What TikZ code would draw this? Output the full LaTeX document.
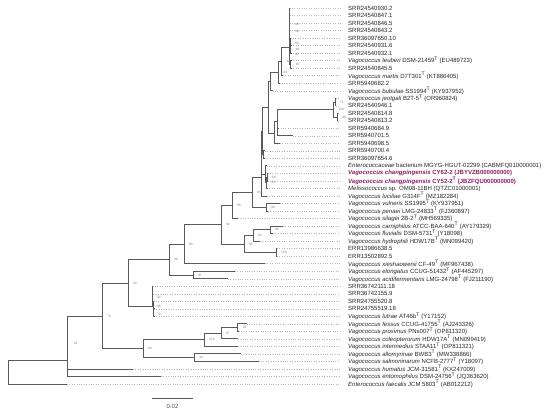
\documentclass[tikz,border=0pt]{standalone}
\usepackage{fontspec}
\setmainfont{Liberation Sans}
\definecolor{brc}{HTML}{5A5A5A}
\definecolor{purp}{HTML}{8B1C62}
\tikzset{
  br/.style={draw=brc, line width=0.9pt},
  leader/.style={draw=gray!55, dotted, line width=0.4pt},
  lbl/.style={anchor=west, inner sep=0pt, font=\fontsize{6}{6.5}\selectfont, text=black!85},
  bs/.style={anchor=west, inner sep=0pt, xshift=5pt, font=\fontsize{3.2}{3.5}\selectfont, text=gray},
}
\newcommand\leafrow[4]{%
  \coordinate (t#1) at (#2,#3);
  \node[lbl] (l#1) at (348,#3) {#4};
  \draw[leader] (t#1) -- (t#1 -| xe);
}
\newcommand\Vt[1]{\textit{Vagococcus #1}}
\newcommand\Ts{\textsuperscript{T}}
\begin{document}
\begin{tikzpicture}[x=1pt,y=-1pt]
\useasboundingbox (0,0) rectangle (550,414);
\coordinate (xe) at (340,0);
% leaves
\leafrow{1}{289.5}{8}{SRR24540930.2}
\leafrow{2}{289.5}{15.52}{SRR24540847.1}
\leafrow{3}{289.5}{23.04}{SRR24540846.5}
\leafrow{4}{289.5}{30.56}{SRR24540843.2}
\leafrow{5}{290.5}{38.08}{SRR36097650.10}
\leafrow{6}{291}{45.6}{SRR24540931.6}
\leafrow{7}{291}{53.12}{SRR24540932.1}
\leafrow{8}{291}{60.64}{\Vt{teuberi} DSM-21459\Ts{} (EU489723)}
\leafrow{9}{291}{68.16}{SRR24540845.5}
\leafrow{10}{283}{75.68}{\Vt{martis} D7T301\Ts{} (KT886405)}
\leafrow{11}{279.5}{83.2}{SRR5940682.2}
\leafrow{12}{272.5}{90.72}{\Vt{bubulae} SS1994\Ts{} (KY937952)}
\leafrow{13}{336}{98.24}{\Vt{jeotgali} B2T-5\Ts{} (OR960824)}
\leafrow{14}{336}{105.76}{SRR24540946.1}
\leafrow{15}{338}{113.28}{SRR24540814.8}
\leafrow{16}{338}{120.8}{SRR24540813.2}
\leafrow{17}{278.2}{128.32}{SRR5940684.9}
\leafrow{18}{292.7}{135.84}{SRR5940701.5}
\leafrow{19}{280}{143.36}{SRR5940698.5}
\leafrow{20}{265}{150.88}{SRR5940700.4}
\leafrow{21}{265}{158.4}{SRR36097654.6}
\leafrow{22}{266.5}{165.92}{\textit{Enterococcaceae} bacterium MGYG-HGUT-02299 (CABMFQ010000001)}
\leafrow{23}{267.5}{173.44}{\textcolor{purp}{\textbf{\textit{Vagococcus changpingensis} CY62-2 (JBYVZB000000000)}}}
\leafrow{24}{267.5}{180.96}{\textcolor{purp}{\textbf{\textit{Vagococcus changpingensis} CY52-2\Ts{} (JBZFQU000000000)}}}
\leafrow{25}{267}{188.48}{\textit{Melissococcus} sp. OM08-11BH (QTZC01000001)}
\leafrow{26}{267}{196}{\Vt{luciliae} G314F\Ts{} (MZ182284)}
\leafrow{27}{280}{203.52}{\Vt{vulneris} SS1995\Ts{} (KY937951)}
\leafrow{28}{268}{211.04}{\Vt{penaei} LMG-24833\Ts{} (FJ360897)}
\leafrow{29}{238}{218.56}{\Vt{silagei} 2B-2\Ts{} (MH569335)}
\leafrow{30}{283}{226.08}{\Vt{carniphilus} ATCC-BAA-640\Ts{} (AY179329)}
\leafrow{31}{273}{233.6}{\Vt{fluvialis} DSM-5731\Ts{} (Y18098)}
\leafrow{32}{260}{241.12}{\Vt{hydrophili} HDW17B\Ts{} (MN099420)}
\leafrow{33}{277}{248.64}{ERR13986638.5}
\leafrow{34}{277}{256.16}{ERR13502892.5}
\leafrow{35}{265}{263.68}{\Vt{xieshaowenii} CF-49\Ts{} (MF967438)}
\leafrow{36}{235}{271.2}{\Vt{elongatus} CCUG-51432\Ts{} (AF445297)}
\leafrow{37}{228}{278.72}{\Vt{acidifermentans} LMG-24798\Ts{} (FJ211190)}
\leafrow{38}{152.5}{286.24}{SRR36742111.18}
\leafrow{39}{153}{293.76}{SRR36742155.9}
\leafrow{40}{153.5}{301.28}{SRR24755520.8}
\leafrow{41}{154}{308.8}{SRR24755519.18}
\leafrow{42}{154}{316.32}{\Vt{lutrae} AT46b\Ts{} (Y17152)}
\leafrow{43}{246.7}{323.84}{\Vt{fessus} CCUG-41755\Ts{} (AJ243326)}
\leafrow{44}{239}{331.36}{\Vt{proximus} PNs007\Ts{} (OP811320)}
\leafrow{45}{237.7}{338.88}{\Vt{coleopterorum} HDW17A\Ts{} (MN099419)}
\leafrow{46}{237.7}{346.4}{\Vt{intermedius} STAA11\Ts{} (OP811321)}
\leafrow{47}{241}{353.92}{\Vt{allomyrinae} BWB3\Ts{} (MW338866)}
\leafrow{48}{258.5}{361.44}{\Vt{salmoninarum} NCFB-2777\Ts{} (Y18097)}
\leafrow{49}{133}{368.96}{\Vt{humatus} JCM-31581\Ts{} (KX247009)}
\leafrow{50}{161}{376.48}{\Vt{entomophilus} DSM-24756\Ts{} (JQ363620)}
\leafrow{51}{67}{384}{\textit{Enterococcus faecalis} JCM 5803\Ts{} (AB012212)}
% internal nodes
\coordinate (T66) at (290.6,49.36);
\coordinate (T64) at (290.2,43.72);
\coordinate (T60) at (290.6,64.4);
\coordinate (T90) at (289.8,54.06);
\coordinate (T0) at (289.3,47);
\coordinate (Nc) at (281.7,61.3);
\coordinate (Nd) at (278.3,72.3);
\coordinate (Ne) at (270,81.5);
\coordinate (Ja) at (335,102);
\coordinate (Jb) at (337,117.04);
\coordinate (Jc) at (333.3,109.5);
\coordinate (K) at (277.7,121);
\coordinate (L) at (274,133);
\coordinate (M) at (268.3,107.3);
\coordinate (R) at (263.5,154.64);
\coordinate (P) at (262.3,131);
\coordinate (D3) at (267,177.2);
\coordinate (D2) at (266.5,182.8);
\coordinate (D) at (265.7,174.4);
\coordinate (U1) at (261.5,177);
\coordinate (Na) at (266,207.28);
\coordinate (Nb) at (252,192);
\coordinate (Nf) at (232,205.3);
\coordinate (Ng) at (270,229.84);
\coordinate (Nh) at (253,235.5);
\coordinate (Ni) at (276,252.4);
\coordinate (Nj) at (244,244);
\coordinate (Nk) at (221,224.6);
\coordinate (Nl) at (184,244.1);
\coordinate (Nm) at (193,274.96);
\coordinate (Nn) at (169,259.5);
\coordinate (S4) at (153.5,312.56);
\coordinate (S3) at (153,306.9);
\coordinate (S) at (152,306);
\coordinate (No) at (128,283.6);
\coordinate (Np) at (237.7,327.6);
\coordinate (Nq) at (221,333.24);
\coordinate (Nr) at (204,339.8);
\coordinate (Ns) at (194.5,357.68);
\coordinate (Nt) at (143,348.7);
\coordinate (Nu) at (102,316);
\coordinate (Nv) at (67,360);
\coordinate (root) at (8,372);
% branches
\draw[br] (T66) |- (t6);  \draw[br] (T66) |- (t7);
\draw[br] (T64) |- (t5);  \draw[br] (T64) |- (T66);
\draw[br] (T60) |- (t8);  \draw[br] (T60) |- (t9);
\draw[br] (T90) |- (T64); \draw[br] (T90) |- (T60);
\draw[br] (T0) |- (t1); \draw[br] (T0) |- (t2); \draw[br] (T0) |- (t3); \draw[br] (T0) |- (t4); \draw[br] (T0) |- (T90);
\draw[br] (Nc) |- (T0);  \draw[br] (Nc) |- (t10);
\draw[br] (Nd) |- (Nc);  \draw[br] (Nd) |- (t11);
\draw[br] (Ne) |- (Nd);  \draw[br] (Ne) |- (t12);
\draw[br] (Ja) |- (t13); \draw[br] (Ja) |- (t14);
\draw[br] (Jb) |- (t15); \draw[br] (Jb) |- (t16);
\draw[br] (Jc) |- (Ja);  \draw[br] (Jc) |- (Jb);
\draw[br] (K) |- (Jc); \draw[br] (K) |- (t17); \draw[br] (K) |- (t18);
\draw[br] (L) |- (K); \draw[br] (L) |- (t19);
\draw[br] (M) |- (Ne); \draw[br] (M) |- (L);
\draw[br] (R) |- (t20); \draw[br] (R) |- (t21);
\draw[br] (P) |- (M); \draw[br] (P) |- (R);
\draw[br] (D3) |- (t23); \draw[br] (D3) |- (t24);
\draw[br] (D2) |- (D3); \draw[br] (D2) |- (t25);
\draw[br] (D) |- (t22); \draw[br] (D) |- (D2);
\draw[br] (U1) |- (P); \draw[br] (U1) |- (D); \draw[br] (U1) |- (t26);
\draw[br] (Na) |- (t27); \draw[br] (Na) |- (t28);
\draw[br] (Nb) |- (U1); \draw[br] (Nb) |- (Na);
\draw[br] (Nf) |- (Nb); \draw[br] (Nf) |- (t29);
\draw[br] (Ng) |- (t30); \draw[br] (Ng) |- (t31);
\draw[br] (Nh) |- (Ng); \draw[br] (Nh) |- (t32);
\draw[br] (Ni) |- (t33); \draw[br] (Ni) |- (t34);
\draw[br] (Nj) |- (Nh); \draw[br] (Nj) |- (Ni);
\draw[br] (Nk) |- (Nf); \draw[br] (Nk) |- (Nj);
\draw[br] (Nl) |- (Nk); \draw[br] (Nl) |- (t35);
\draw[br] (Nm) |- (t36); \draw[br] (Nm) |- (t37);
\draw[br] (Nn) |- (Nl); \draw[br] (Nn) |- (Nm);
\draw[br] (S4) |- (t41); \draw[br] (S4) |- (t42);
\draw[br] (S3) |- (t40); \draw[br] (S3) |- (S4);
\draw[br] (S) |- (t38); \draw[br] (S) |- (t39); \draw[br] (S) |- (S3);
\draw[br] (No) |- (Nn); \draw[br] (No) |- (S);
\draw[br] (Np) |- (t43); \draw[br] (Np) |- (t44);
\draw[br] (Nq) |- (Np); \draw[br] (Nq) |- (t45);
\draw[br] (Nr) |- (Nq); \draw[br] (Nr) |- (t46);
\draw[br] (Ns) |- (t47); \draw[br] (Ns) |- (t48);
\draw[br] (Nt) |- (Nr); \draw[br] (Nt) |- (Ns);
\draw[br] (Nu) |- (No); \draw[br] (Nu) |- (Nt);
\draw[br] (Nv) |- (Nu); \draw[br] (Nv) |- (t49); \draw[br] (Nv) |- (t50);
\draw[br] (root) |- (Nv); \draw[br] (root) |- (t51);
% bootstrap values
\node[bs] (bT66) at (T66) {66};
\node[bs] (bT64) at (T64) {64};
\node[bs] (bT60) at (T60) {60};
\node[bs] (bT90) at (T90) {90};
\node[bs] (bx1) at (290,24) {90};
\node[bs] (bx2) at (290,31.3) {90};
\node[bs] (bNc) at (Nc) {64};
\node[bs] (bNd) at (Nd) {83};
\node[bs] (bJa) at (Ja) {71};
\node[bs] (bJb) at (Jb) {98};
\node[bs] (bJc) at (Jc) {100};
\node[bs] (bD3) at (D3) {66};
\node[bs] (bD2) at (D2) {93};
\node[bs] (bNa) at (Na) {99};
\node[bs] (bNb) at (Nb) {93};
\node[bs] (bNf) at (Nf) {58};
\node[bs] (bNg) at (Ng) {99};
\node[bs] (bNh) at (Nh) {64};
\node[bs] (bNi) at (Ni) {100};
\node[bs] (bNj) at (Nj) {95};
\node[bs] (bNk) at (Nk) {92};
\node[bs] (bNl) at (Nl) {80};
\node[bs] (bNm) at (Nm) {97};
\node[bs] (bNn) at (Nn) {99};
\node[bs] (bS2) at (152,297) {54};
\node[bs] (bS3) at (152,306) {96};
\node[bs] (bS4) at (152,314) {79};
\node[bs] (bNo) at (No) {83};
\node[bs] (bNp) at (Np) {99};
\node[bs] (bNq) at (Nq) {97};
\node[bs] (bNr) at (Nr) {100};
\node[bs] (bNs) at (Ns) {92};
\node[bs] (bNt) at (Nt) {90};
\node[bs] (bNu) at (Nu) {79};
\node[bs] (bNv) at (69,343) {81};
% scale bar
\coordinate (sb1) at (152,398);
\coordinate (sb2) at (193,398);
\draw[br] (sb1) -- (sb2);
\node[inner sep=0pt, font=\fontsize{6}{7}\selectfont, text=black!70] (sbl) at (172.5,406.5) {0.02};
\end{tikzpicture}
\end{document}
